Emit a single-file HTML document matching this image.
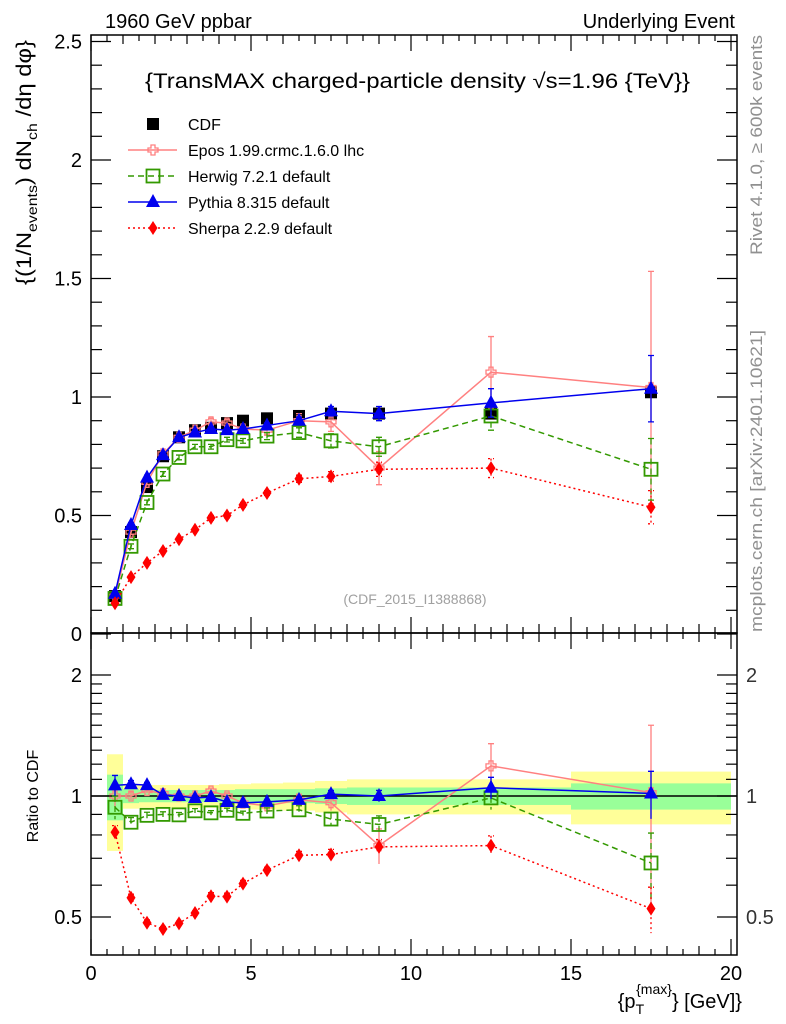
<!DOCTYPE html>
<html><head><meta charset="utf-8">
<style>
html,body{margin:0;padding:0;background:#fff;}
svg{display:block;font-family:"Liberation Sans",Arial,sans-serif;}
</style></head>
<body>
<svg id="chart" width="786" height="1024" viewBox="0 0 786 1024" xmlns="http://www.w3.org/2000/svg">
  <text x="105" y="28" font-size="20">1960 GeV ppbar</text>
  <text x="735" y="28" font-size="20" text-anchor="end">Underlying Event</text>
  <text x="145" y="88" font-size="21" textLength="545" lengthAdjust="spacingAndGlyphs">{TransMAX charged-particle density √s=1.96 {TeV}}</text>
  <text x="415" y="604" font-size="14" fill="#a0a0a0" text-anchor="middle">(CDF_2015_I1388868)</text>
  <text transform="translate(762,255) rotate(-90)" font-size="17" fill="#909090" textLength="220" lengthAdjust="spacingAndGlyphs">Rivet 4.1.0, ≥ 600k events</text>
  <text transform="translate(762,632) rotate(-90)" font-size="17" fill="#909090" textLength="302" lengthAdjust="spacingAndGlyphs">mcplots.cern.ch [arXiv:2401.10621]</text>
  <text transform="translate(31,285) rotate(-90)" font-size="21" textLength="245" lengthAdjust="spacingAndGlyphs">{(1/N<tspan font-size="14" dy="6">events</tspan><tspan dy="-6">) dN</tspan><tspan font-size="14" dy="6">ch</tspan><tspan dy="-6"> /dη dφ}</tspan></text>
  <text transform="translate(38,796) rotate(-90)" font-size="16" text-anchor="middle">Ratio to CDF</text>
  <text x="742" y="1008" font-size="20" text-anchor="end">{p<tspan font-size="14" dy="6">T</tspan><tspan font-size="14" dx="-8" dy="-20">{max}</tspan><tspan dy="14">} [GeV]}</tspan></text>
  <g id="bands"></g>
  <g id="main"></g>
  <g id="ratio"></g>
  <g id="axes"></g>
  <g id="legend"></g>
</svg>
<script>
// ---- data ----
const binEdges = [0.5,1,1.5,2,2.5,3,3.5,4,4.5,5,6,7,8,10,15,20];
const binCenters = [0.75,1.25,1.75,2.25,2.75,3.25,3.75,4.25,4.75,5.5,6.5,7.5,9,12.5,17.5];
const cdfValues = [0.16,0.43,0.62,0.75,0.83,0.86,0.87,0.89,0.90,0.91,0.92,0.93,0.93,0.93,1.02];
const cdfStatRel = [0.13,0.04,0.035,0.035,0.035,0.035,0.035,0.035,0.04,0.04,0.04,0.045,0.05,0.05,0.075];
const cdfTotRel = [0.27,0.07,0.065,0.065,0.065,0.065,0.065,0.07,0.07,0.075,0.08,0.09,0.1,0.1,0.15];
const eposValues = [0.16,0.43,0.64,0.76,0.83,0.86,0.895,0.89,0.865,0.86,0.90,0.895,0.70,1.105,1.04];
const eposErr = [0.01,0.01,0.01,0.01,0.01,0.01,0.015,0.015,0.015,0.02,0.03,0.04,0.07,0.15,0.49];
const herwigValues = [0.15,0.37,0.555,0.675,0.745,0.79,0.79,0.82,0.815,0.835,0.85,0.815,0.79,0.92,0.695];
const herwigErr = [0.01,0.01,0.01,0.01,0.01,0.01,0.01,0.01,0.01,0.015,0.02,0.03,0.04,0.06,0.13];
const pythiaValues = [0.17,0.46,0.66,0.755,0.83,0.85,0.865,0.86,0.865,0.88,0.90,0.94,0.93,0.975,1.035];
const pythiaErr = [0.01,0.01,0.01,0.01,0.01,0.01,0.01,0.01,0.01,0.01,0.015,0.02,0.03,0.06,0.14];
const sherpaValues = [0.13,0.24,0.30,0.35,0.40,0.44,0.49,0.50,0.545,0.595,0.655,0.665,0.695,0.70,0.535];
const sherpaErr = [0.005,0.005,0.005,0.005,0.005,0.005,0.01,0.01,0.01,0.01,0.015,0.02,0.03,0.04,0.07];
const xTicks = [0,5,10,15,20];
const yTicks = [0,0.5,1,1.5,2,2.5];
const yTickLabels = ["0","0.5","1","1.5","2","2.5"];
const rTicks = [0.5,1,2];
const rTickLabels = ["0.5","1","2"];

// ---- geometry ----
const L=91,R=737,T=35,MB=633,RB=955;
const X = v => 91 + v*32;
const Y = v => 634 - v*237;
const RY = r => 796 - 121*Math.log2(r);
const NS="http://www.w3.org/2000/svg";
function mk(tag, attrs, parent){const e=document.createElementNS(NS,tag);for(const k in attrs)e.setAttribute(k,attrs[k]);parent.appendChild(e);return e;}

const gB=document.getElementById('bands'), gM=document.getElementById('main'), gR=document.getElementById('ratio'), gA=document.getElementById('axes'), gL=document.getElementById('legend');

// ratio bands
binCenters.forEach((c,i)=>{
  const x0=X(binEdges[i]), x1=X(binEdges[i+1]);
  const y=mk('rect',{x:x0,y:RY(1+cdfTotRel[i]),width:x1-x0,height:RY(1-cdfTotRel[i])-RY(1+cdfTotRel[i]),fill:'#ffff99'},gB);
  
  
  const g=mk('rect',{x:x0,y:RY(1+cdfStatRel[i]),width:x1-x0,height:RY(1-cdfStatRel[i])-RY(1+cdfStatRel[i]),fill:'#99ff99'},gB);
  
  
});
const one=mk('line',{x1:L,x2:R,y1:RY(1),y2:RY(1),stroke:'#000','stroke-width':1.5},gB);



function marker(kind,x,y,color,parent,name){
  let e;
  if(kind==='square') e=mk('rect',{x:x-6,y:y-6,width:12,height:12,fill:'#000'},parent);
  else if(kind==='osquare') e=mk('rect',{x:x-6.5,y:y-6.5,width:13,height:13,fill:'none',stroke:color,'stroke-width':1.8},parent);
  else if(kind==='cross') e=mk('path',{d:`M${x-2} ${y-5}h4v3h3v4h-3v3h-4v-3h-3v-4h3z`,fill:'none',stroke:color,'stroke-width':1.3},parent);
  else if(kind==='tri') e=mk('path',{d:`M${x} ${y-8}L${x+7} ${y+5}L${x-7} ${y+5}Z`,fill:color},parent);
  else e=mk('path',{d:`M${x} ${y-7}L${x+4.5} ${y}L${x} ${y+7}L${x-4.5} ${y}Z`,fill:color},parent);
  
  
}

const series=[
  {name:'epos',vals:eposValues,err:eposErr,color:'#ff8080',dash:'',mk:'cross'},
  {name:'herwig',vals:herwigValues,err:herwigErr,color:'#339900',dash:'6,4',mk:'osquare'},
  {name:'pythia',vals:pythiaValues,err:pythiaErr,color:'#0000ee',dash:'',mk:'tri'},
  {name:'sherpa',vals:sherpaValues,err:sherpaErr,color:'#ff0000',dash:'2,3',mk:'diamond'}
];

// CDF in main
cdfValues.forEach((v,i)=>{ marker('square',X(binCenters[i]),Y(v),'#000',gM,'cdf-point'); });

series.forEach(s=>{
  const pts=s.vals.map((v,i)=>X(binCenters[i])+','+Y(v)).join(' ');
  const pl=mk('polyline',{points:pts,fill:'none',stroke:s.color,'stroke-width':1.5,'stroke-dasharray':s.dash},gM);
  
  
  s.vals.forEach((v,i)=>{
    const x=X(binCenters[i]);
    const eb=mk('path',{d:`M${x} ${Y(v+s.err[i])}V${Y(v-s.err[i])}M${x-3} ${Y(v+s.err[i])}h6M${x-3} ${Y(v-s.err[i])}h6`,stroke:s.color,'stroke-width':1.3,fill:'none','stroke-dasharray':s.dash},gM);
    
    
    marker(s.mk,x,Y(v),s.color,gM,s.name+'-point');
  });
  const rat=s.vals.map((v,i)=>v/cdfValues[i]);
  const rpts=rat.map((r,i)=>X(binCenters[i])+','+RY(r)).join(' ');
  const rl=mk('polyline',{points:rpts,fill:'none',stroke:s.color,'stroke-width':1.5,'stroke-dasharray':s.dash},gR);
  
  
  rat.forEach((r,i)=>{
    const x=X(binCenters[i]); const e=s.err[i]/cdfValues[i];
    const lo=Math.max(r-e,0.41);
    const eb=mk('path',{d:`M${x} ${RY(r+e)}V${RY(lo)}M${x-3} ${RY(r+e)}h6`,stroke:s.color,'stroke-width':1.3,fill:'none','stroke-dasharray':s.dash},gR);
    
    
    marker(s.mk,x,RY(r),s.color,gR,s.name+'-ratio-point');
  });
});

// frames
[[T,MB],[MB,RB]].forEach(([a,b],k)=>{
  const f=mk('rect',{x:L,y:a,width:R-L,height:b-a,fill:'none',stroke:'#000','stroke-width':1.5},gA);
  
  
});
function xt(y0,dir){
  for(let v=0;v<=20.001;v+=0.5){
    const major=Math.abs(v%5)<1e-6, len=major?16:(Math.abs(v%1)<1e-6?9:6);
    mk('line',{x1:X(v),x2:X(v),y1:y0,y2:y0+dir*len,stroke:'#000','stroke-width':1.2},gA);
  }
}
xt(MB,-1); xt(T,1); xt(RB,-1); xt(MB,1);
xTicks.forEach(v=>{
  const t=mk('text',{x:X(v),y:980,'font-size':20,'text-anchor':'middle'},gA); t.textContent=v;
  
  
});
for(let i=0;i<=25;i++){
  const v=i/10, major=i%5===0, len=major?20:11;
  mk('line',{x1:L,x2:L+len,y1:Y(v),y2:Y(v),stroke:'#000','stroke-width':1.2},gA);
  mk('line',{x1:R,x2:R-len,y1:Y(v),y2:Y(v),stroke:'#000','stroke-width':1.2},gA);
}
yTicks.forEach((v,i)=>{
  const t=mk('text',{x:82,y:Y(v)+7,'font-size':20,'text-anchor':'end'},gA); t.textContent=yTickLabels[i];
  
  
});
[0.5,0.6,0.7,0.8,0.9,1,1.1,1.2,1.3,1.4,1.5,1.6,1.7,1.8,1.9,2].forEach(r=>{
  const major=rTicks.includes(r), len=major?20:11;
  mk('line',{x1:L,x2:L+len,y1:RY(r),y2:RY(r),stroke:'#000','stroke-width':1.2},gA);
  mk('line',{x1:R,x2:R-len,y1:RY(r),y2:RY(r),stroke:'#000','stroke-width':1.2},gA);
});
rTicks.forEach((r,i)=>{
  const t=mk('text',{x:82,y:RY(r)+7,'font-size':20,'text-anchor':'end'},gA); t.textContent=rTickLabels[i];
  
  
  const t2=mk('text',{x:746,y:RY(r)+7,'font-size':20,fill:'#333'},gA); t2.textContent=rTickLabels[i];
  
  
});
const legNames=['CDF','Epos 1.99.crmc.1.6.0 lhc','Herwig 7.2.1 default','Pythia 8.315 default','Sherpa 2.2.9 default'];
legNames.forEach((n,i)=>{
  const y=124+i*26;
  if(i>0){
    const s=series[i-1];
    const ll=mk('line',{x1:128,x2:177,y1:y,y2:y,stroke:s.color,'stroke-width':1.5,'stroke-dasharray':s.dash},gL);
    
    
    marker(s.mk,153,y,s.color,gL,'legend-marker');
  } else marker('square',153,y,'#000',gL,'legend-marker');
  const t=mk('text',{x:188,y:y+6,'font-size':16},gL); t.textContent=n;
  
  
});
</script>
</body></html>
